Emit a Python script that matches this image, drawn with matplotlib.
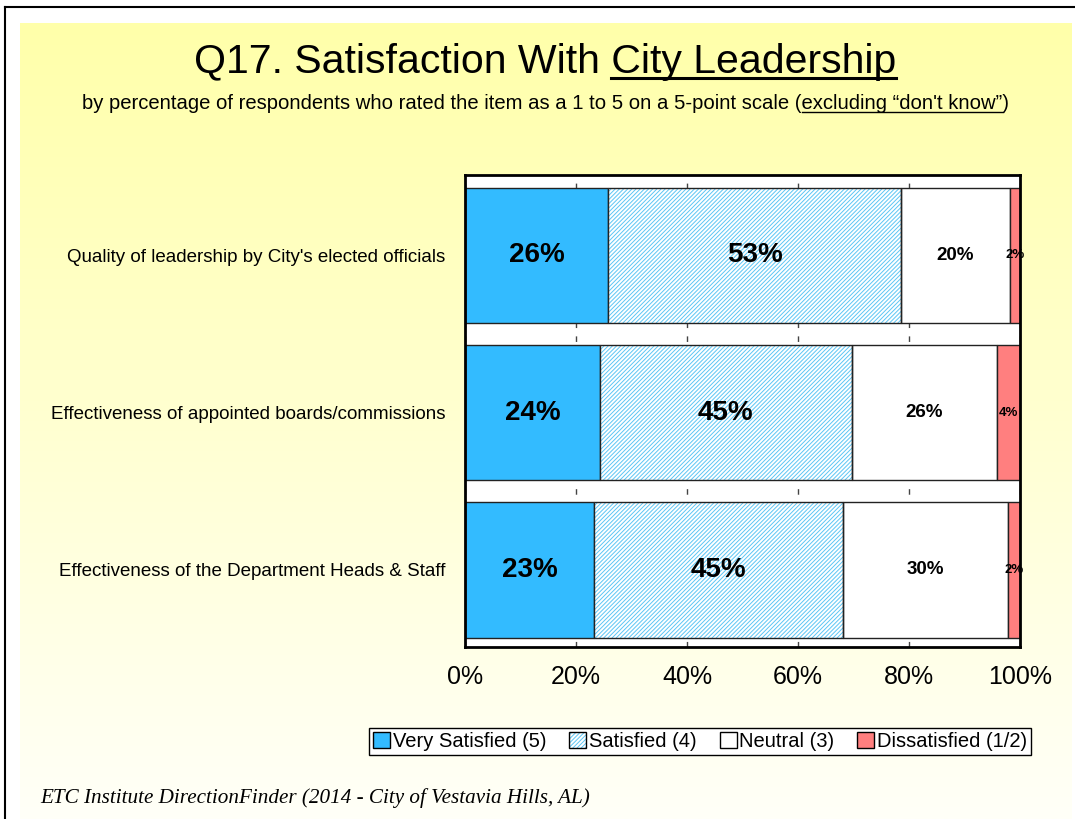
import numpy as np
import matplotlib
matplotlib.use("Agg")
import matplotlib.pyplot as plt
from matplotlib.patches import Patch
from matplotlib.lines import Line2D

plt.rcParams['font.family'] = ['Liberation Sans', 'DejaVu Sans']
plt.rcParams['hatch.linewidth'] = 0.7

categories = ["Quality of leadership by City's elected officials",
              "Effectiveness of appointed boards/commissions",
              "Effectiveness of the Department Heads & Staff"]
very_satisfied = [25.8, 24.3, 23.2]
satisfied = [52.8, 45.4, 44.9]
neutral = [19.6, 26.1, 29.7]
dissatisfied = [1.8, 4.2, 2.2]
series_names = ["Very Satisfied (5)", "Satisfied (4)", "Neutral (3)", "Dissatisfied (1/2)"]
label_very_satisfied = ["26%", "24%", "23%"]
label_satisfied = ["53%", "45%", "45%"]
label_neutral = ["20%", "26%", "30%"]
label_dissatisfied = ["2%", "4%", "2%"]
xticks = [0, 20, 40, 60, 80, 100]
xticklabels = ["0%", "20%", "40%", "60%", "80%", "100%"]

W, H = 1075, 819
fig = plt.figure(figsize=(W / 100, H / 100), dpi=100)
fig.patch.set_facecolor('white')

# background gradient
bg = fig.add_axes([20 / W, 0, (1072 - 20) / W, (H - 23) / H], zorder=-10)
top = np.array([255, 255, 170]) / 255
bot = np.array([255, 255, 248]) / 255
t = np.linspace(0, 1, 256)[:, None]
grad = (top[None, :] * (1 - t) + bot[None, :] * t)[:, None, :]
bg.imshow(grad, aspect='auto', extent=[0, 1, 0, 1], interpolation='bilinear')
bg.axis('off')

# border lines
fig.add_artist(Line2D([5 / W, 1], [1 - 7 / H, 1 - 7 / H], color='black', lw=1.5, transform=fig.transFigure))
fig.add_artist(Line2D([5 / W, 5 / W], [0, 1 - 7 / H], color='black', lw=1.5, transform=fig.transFigure))

ax = fig.add_axes([465 / W, (H - 647) / H, 555 / W, 472 / H])
ax.set_facecolor('white')
y = np.arange(len(categories))
h = 0.86

vs = np.array(very_satisfied)
sa = np.array(satisfied)
ne = np.array(neutral)
di = np.array(dissatisfied)

c_vs = '#33BBFF'
c_hatch = '#5CC6F5'
c_di = '#FF7F7F'
hatch = '////////'

ax.barh(y, vs, height=h, color=c_vs, edgecolor='#222222', lw=1, zorder=3)
ax.barh(y, sa, left=vs, height=h, color='white', edgecolor=c_hatch, hatch=hatch, lw=0, zorder=3)
ax.barh(y, sa, left=vs, height=h, color='none', edgecolor='#222222', lw=1, zorder=4)
ax.barh(y, ne, left=vs + sa, height=h, color='white', edgecolor='#222222', lw=1, zorder=3)
ax.barh(y, di, left=vs + sa + ne, height=h, color=c_di, edgecolor='#222222', lw=1, zorder=3)

for i in range(len(categories)):
    ax.text(vs[i] / 2, y[i], label_very_satisfied[i], ha='center', va='center', fontsize=20, fontweight='bold', zorder=6)
    ax.text(vs[i] + sa[i] / 2, y[i], label_satisfied[i], ha='center', va='center', fontsize=20, fontweight='bold', zorder=6)
    ax.text(vs[i] + sa[i] + ne[i] / 2, y[i], label_neutral[i], ha='center', va='center', fontsize=13.5, fontweight='bold', zorder=6)
    ax.text(vs[i] + sa[i] + ne[i] + di[i] / 2, y[i], label_dissatisfied[i], ha='center', va='center', fontsize=9.5, fontweight='bold', zorder=6)

ax.set_xlim(0, 100)
ax.set_ylim(2.49, -0.51)
ax.set_yticks(y)
ax.set_yticklabels(categories, fontsize=13.5)
ax.set_xticks(xticks)
ax.set_xticklabels(xticklabels, fontsize=18)
ax.tick_params(axis='both', length=0)
ax.tick_params(axis='y', pad=14)
ax.tick_params(axis='x', pad=13)
ax.grid(axis='x', color='#444444', linestyle=(0, (4, 6)), lw=1, zorder=1)
ax.set_axisbelow(True)
for s in ax.spines.values():
    s.set_linewidth(2)
    s.set_color('black')
    s.set_zorder(8)

# legend
handles = [Patch(facecolor=c_vs, edgecolor='black', lw=1),
           (Patch(facecolor='white', edgecolor=c_hatch, hatch=hatch, lw=0),
            Patch(facecolor='none', edgecolor='black', lw=1)),
           Patch(facecolor='white', edgecolor='black', lw=1),
           Patch(facecolor=c_di, edgecolor='black', lw=1)]
leg = fig.legend(handles, series_names, loc='center', bbox_to_anchor=(700 / W, 1 - 741.5 / H),
                 ncol=4, fontsize=14.5, frameon=True, fancybox=False, edgecolor='black',
                 framealpha=1, facecolor='white', handlelength=0.85, handleheight=0.85,
                 handletextpad=0.12, columnspacing=1.15, borderpad=0.2, borderaxespad=0)
leg.get_frame().set_linewidth(1)

# titles
title_txt = "Q17. Satisfaction With City Leadership"
sub_txt = "by percentage of respondents who rated the item as a 1 to 5 on a 5-point scale (excluding \u201cdon't know\u201d)"
ts = 29.5
ss = 14.6
tt = fig.text(545 / W, 1 - 73 / H, title_txt, ha='center', va='baseline', fontsize=ts)
st = fig.text(546 / W, 1 - 109 / H, sub_txt, ha='center', va='baseline', fontsize=ss)

fig.text(40 / W, 1 - 803 / H, "ETC Institute DirectionFinder (2014 - City of Vestavia Hills, AL)",
         ha='left', va='baseline', fontsize=15.2, style='italic', family=['Liberation Serif', 'DejaVu Serif'])

fig.canvas.draw()
r = fig.canvas.get_renderer()


def measure(s, size):
    tmp = fig.text(0, 0, s, fontsize=size)
    w = tmp.get_window_extent(r).width
    tmp.remove()
    return w


bb = tt.get_window_extent(r)
wu = measure("City Leadership", ts)
yl = (H - 78) / H
fig.add_artist(Line2D([(bb.x1 - wu) / W, bb.x1 / W], [yl, yl], color='black', lw=2.2, transform=fig.transFigure))

bb2 = st.get_window_extent(r)
wp = measure(")", ss)
we = measure("excluding \u201cdon't know\u201d", ss)
yl2 = (H - 112) / H
fig.add_artist(Line2D([(bb2.x1 - wp - we) / W, (bb2.x1 - wp) / W], [yl2, yl2], color='black', lw=1, transform=fig.transFigure))

fig.savefig('out.png', dpi=100)
